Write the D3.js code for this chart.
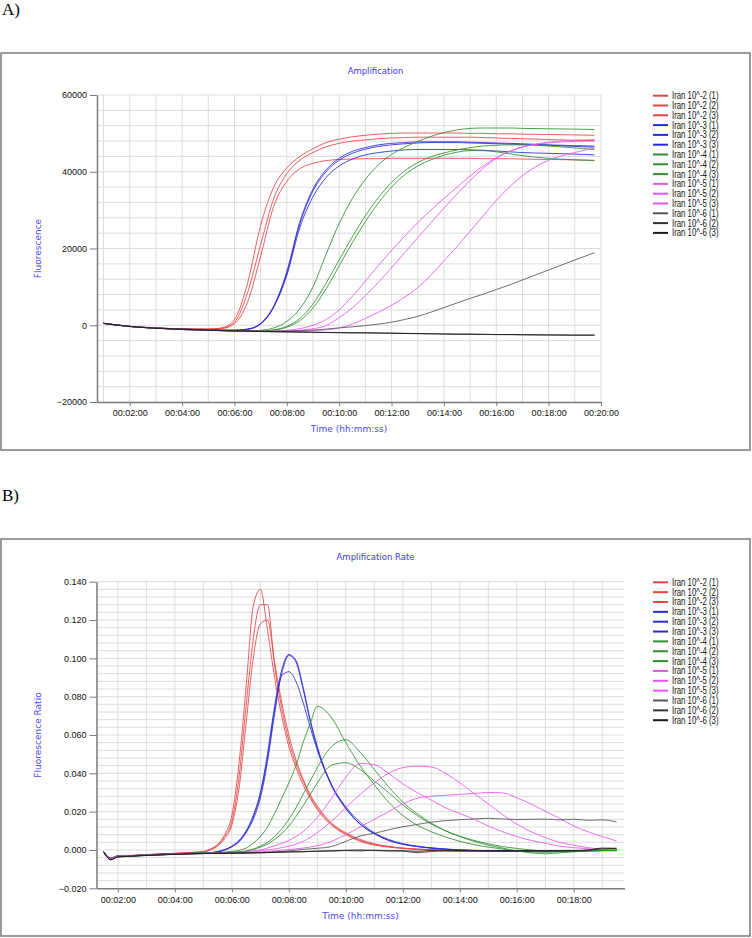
<!DOCTYPE html>
<html><head><meta charset="utf-8">
<script src="https://cdn.jsdelivr.net/npm/d3@7"></script>
<style>
body{margin:0;background:#fff;}
svg{display:block;}
</style></head><body>
<svg id="chart" width="752" height="938"></svg>
<script>
// ---------- DATA ----------
const seriesNames = ["Iran 10^-2 (1)","Iran 10^-2 (2)","Iran 10^-2 (3)","Iran 10^-3 (1)","Iran 10^-3 (2)","Iran 10^-3 (3)","Iran 10^-4 (1)","Iran 10^-4 (2)","Iran 10^-4 (3)","Iran 10^-5 (1)","Iran 10^-5 (2)","Iran 10^-5 (3)","Iran 10^-6 (1)","Iran 10^-6 (2)","Iran 10^-6 (3)"];

// Panel A: time in minutes, fluorescence
const timesA = [1,2,3,4,5,5.5,6,6.5,7,7.5,8,8.5,9,9.5,10,10.5,11,11.5,12,12.5,13,13.5,14,14.5,15,15.5,16,16.5,17,18,19,19.75];
const red1A = [500,-300,-700,-950,-1000,-700,1500,11000,26000,36000,41000,44000,46000,47600,48500,49100,49500,49800,50000,50100,50100,50100,50100,50100,50000,50000,49900,49900,49800,49700,49600,49500];
const red2A = [500,-300,-700,-950,-1000,-800,800,8500,21000,33000,39500,43000,45000,46500,47400,48000,48300,48600,48800,48900,49000,49000,49000,49000,49000,48900,48800,48700,48600,48400,48200,48100];
const red3A = [500,-300,-700,-950,-1050,-900,400,6000,18000,31000,37500,40800,42200,42900,43200,43300,43400,43400,43500,43500,43500,43500,43500,43500,43500,43400,43400,43400,43300,43200,43100,43000];
const blue1A = [500,-300,-750,-1050,-1200,-1300,-1300,-1000,500,5000,14000,27000,35500,40500,43500,45300,46300,47000,47400,47600,47800,47800,47800,47800,47700,47600,47500,47400,47300,47000,46800,46700];
const blue2A = [500,-300,-750,-1050,-1200,-1300,-1300,-1050,400,4800,13500,26500,35000,40000,43000,44800,45900,46600,47000,47300,47500,47600,47600,47600,47500,47400,47300,47200,47100,46900,46600,46400];
const blue3A = [500,-300,-750,-1050,-1200,-1300,-1300,-1050,300,4700,13000,25500,33500,38500,41500,43300,44400,45000,45400,45700,45800,45800,45800,45800,45700,45600,45400,45200,45000,44800,44600,44400];
const green1A = [500,-300,-750,-1100,-1300,-1400,-1500,-1500,-1300,-700,1000,4300,10000,18500,26500,33000,38000,41800,44500,46400,47900,49200,50200,50900,51300,51400,51400,51400,51300,51200,51100,51000];
const green2A = [500,-300,-750,-1100,-1300,-1400,-1500,-1550,-1500,-1200,-300,1800,5500,11000,17000,23000,28500,33300,37200,40200,42400,43900,44900,45700,46300,46700,46900,47000,47000,46700,46200,45800];
const green3A = [500,-300,-750,-1100,-1300,-1400,-1500,-1550,-1500,-1300,-500,1200,4500,9500,15500,21500,27000,31900,36000,39200,41500,43100,44300,45100,45500,45500,45200,44700,44200,43500,43100,42900];
const mag1A = [500,-300,-750,-1100,-1300,-1400,-1500,-1550,-1550,-1500,-1300,-900,0,1500,4000,7500,11500,15600,19500,23200,26700,30000,33000,36000,38900,41500,43700,45300,46400,47700,48200,48400];
const mag2A = [500,-300,-750,-1100,-1300,-1400,-1500,-1550,-1600,-1600,-1500,-1300,-900,-100,2000,4500,7700,11200,15000,18900,22800,26700,30500,34200,37700,40900,43500,45300,46500,47500,47900,48000];
const mag3A = [500,-300,-750,-1100,-1300,-1400,-1500,-1550,-1600,-1650,-1650,-1600,-1400,-1200,-700,300,1800,3400,5200,7300,9800,13000,16800,20500,24500,28500,32500,36000,39000,43000,45000,46200];
const black1A = [500,-300,-700,-1000,-1200,-1300,-1400,-1500,-1550,-1550,-1500,-1400,-1250,-1000,-700,-400,-100,300,800,1500,2300,3400,4600,5800,7000,8100,9300,10500,11800,14400,17000,18900];
const black2A = [500,-300,-750,-1050,-1250,-1350,-1450,-1500,-1600,-1650,-1700,-1750,-1800,-1850,-1900,-1950,-1950,-2000,-2050,-2100,-2150,-2200,-2250,-2300,-2300,-2350,-2400,-2400,-2450,-2500,-2550,-2550];
const black3A = [450,-350,-800,-1100,-1300,-1400,-1500,-1550,-1650,-1700,-1750,-1800,-1850,-1900,-1950,-2000,-2000,-2050,-2100,-2150,-2200,-2250,-2300,-2350,-2350,-2400,-2450,-2450,-2500,-2550,-2600,-2600];
const yTicksA = [60000,40000,20000,0,-20000];
const xTicksA = [2,4,6,8,10,12,14,16,18,20];

// Panel B: time in minutes, fluorescence ratio
const timesB = [1.5,1.75,2,2.5,3,3.5,4,4.5,5,5.25,5.5,5.75,6,6.25,6.5,6.75,7,7.25,7.5,7.75,8,8.25,8.5,8.75,9,9.5,10,10.5,11,11.5,12,12.5,13,13.5,14,14.5,15,15.5,16,16.5,17,17.5,18,18.5,19,19.5];
const red1B = [-0.001,-0.004,-0.003,-0.0028,-0.0024,-0.002,-0.0017,-0.0013,-0.0008,0.0005,0.003,0.008,0.018,0.045,0.085,0.127,0.136,0.115,0.09,0.07,0.054,0.043,0.034,0.027,0.021,0.013,0.008,0.0045,0.0025,0.0015,0.0008,0.0003,0.0,-0.0003,-0.0005,-0.0005,-0.0006,-0.0005,-0.0006,-0.0005,-0.0005,-0.0006,-0.0005,-0.0004,-0.0003,-0.0003];
const red2B = [-0.001,-0.0042,-0.0031,-0.0029,-0.0025,-0.0021,-0.0018,-0.0014,-0.001,0.0003,0.0025,0.007,0.015,0.038,0.075,0.11,0.128,0.128,0.096,0.074,0.057,0.045,0.036,0.028,0.022,0.0135,0.0085,0.005,0.003,0.0017,0.0009,0.0004,0.0001,-0.0002,-0.0004,-0.0005,-0.0005,-0.0006,-0.0005,-0.0005,-0.0006,-0.0005,-0.0005,-0.0004,-0.0003,-0.0003];
const red3B = [-0.001,-0.0045,-0.0032,-0.003,-0.0026,-0.0022,-0.0019,-0.0015,-0.0011,0.0,0.002,0.006,0.013,0.032,0.066,0.1,0.118,0.12,0.098,0.077,0.06,0.047,0.037,0.029,0.023,0.014,0.009,0.0055,0.0032,0.0019,0.001,0.0005,0.0002,-0.0001,-0.0003,-0.0004,-0.0005,-0.0005,-0.0005,-0.0004,-0.0005,-0.0005,-0.0004,-0.0004,-0.0003,-0.0002];
const blue1B = [-0.001,-0.0042,-0.0031,-0.0029,-0.0025,-0.0022,-0.002,-0.0018,-0.0016,-0.0014,-0.0008,0.0002,0.002,0.005,0.01,0.018,0.03,0.05,0.075,0.094,0.102,0.099,0.085,0.068,0.054,0.034,0.022,0.0135,0.0085,0.005,0.003,0.0018,0.001,0.0004,0.0,-0.0003,-0.0004,-0.0005,-0.0005,-0.0006,-0.0005,-0.0005,-0.0005,-0.0004,-0.0003,-0.0003];
const blue2B = [-0.0011,-0.0044,-0.0032,-0.003,-0.0026,-0.0023,-0.002,-0.0018,-0.0016,-0.0015,-0.0009,0.0,0.0018,0.0045,0.0095,0.017,0.029,0.048,0.073,0.092,0.1015,0.098,0.084,0.067,0.053,0.0335,0.0215,0.0135,0.0085,0.005,0.003,0.0018,0.001,0.0004,0.0,-0.0003,-0.0004,-0.0005,-0.0005,-0.0005,-0.0005,-0.0005,-0.0004,-0.0004,-0.0003,-0.0003];
const blue3B = [-0.0012,-0.0046,-0.0033,-0.003,-0.0027,-0.0023,-0.0021,-0.0019,-0.0017,-0.0015,-0.001,0.0,0.0017,0.0042,0.009,0.016,0.027,0.046,0.071,0.091,0.093,0.088,0.077,0.064,0.052,0.034,0.0225,0.0145,0.009,0.0055,0.0033,0.002,0.0011,0.0005,0.0001,-0.0002,-0.0004,-0.0005,-0.0005,-0.0005,-0.0005,-0.0004,-0.0004,-0.0003,-0.0003,-0.0002];
const green1B = [-0.0012,-0.0045,-0.0033,-0.003,-0.0026,-0.0023,-0.002,-0.0018,-0.0016,-0.0015,-0.0013,-0.0011,-0.0008,-0.0002,0.001,0.0035,0.007,0.012,0.019,0.027,0.035,0.044,0.056,0.066,0.075,0.069,0.056,0.044,0.034,0.025,0.018,0.013,0.0095,0.0068,0.0045,0.0028,0.0015,0.0005,-0.0005,-0.001,-0.0012,-0.001,-0.0006,-0.0003,0.0,0.0];
const green2B = [-0.0012,-0.0043,-0.0032,-0.003,-0.0026,-0.0023,-0.002,-0.0018,-0.0016,-0.0016,-0.0015,-0.0014,-0.0012,-0.001,-0.0005,0.0005,0.002,0.004,0.007,0.011,0.016,0.022,0.029,0.036,0.043,0.054,0.0575,0.051,0.042,0.033,0.025,0.019,0.014,0.01,0.007,0.0045,0.0025,0.001,-0.0005,-0.0015,-0.002,-0.0015,-0.001,-0.0005,-0.0003,-0.0003];
const green3B = [-0.0011,-0.0044,-0.0033,-0.003,-0.0027,-0.0024,-0.0021,-0.0019,-0.0017,-0.0016,-0.0015,-0.0014,-0.0013,-0.0011,-0.0007,0.0002,0.0015,0.003,0.0055,0.0085,0.0125,0.0175,0.023,0.029,0.035,0.0443,0.0455,0.042,0.036,0.03,0.0235,0.018,0.0135,0.01,0.0072,0.005,0.0032,0.0018,0.0008,0.0,-0.0005,-0.0006,-0.0004,-0.0002,0.0,0.0];
const mag1B = [-0.0012,-0.0044,-0.0033,-0.003,-0.0027,-0.0024,-0.0021,-0.0019,-0.0017,-0.0016,-0.0016,-0.0015,-0.0015,-0.0013,-0.001,-0.0005,0.0,0.001,0.0022,0.0035,0.005,0.007,0.0095,0.013,0.017,0.027,0.038,0.0452,0.0445,0.04,0.0345,0.03,0.026,0.022,0.019,0.016,0.0125,0.0095,0.007,0.005,0.0035,0.002,0.0012,0.0006,0.0003,0.0003];
const mag2B = [-0.0013,-0.0045,-0.0034,-0.0031,-0.0028,-0.0025,-0.0022,-0.002,-0.0018,-0.0017,-0.0017,-0.0016,-0.0016,-0.0015,-0.0013,-0.001,-0.0005,0.0,0.0005,0.0012,0.002,0.003,0.0045,0.0065,0.009,0.015,0.022,0.029,0.035,0.04,0.043,0.0437,0.0433,0.04,0.035,0.0295,0.024,0.0185,0.0135,0.0095,0.0065,0.004,0.0025,0.0012,0.0005,0.0003];
const mag3B = [-0.0013,-0.0046,-0.0035,-0.0031,-0.0028,-0.0025,-0.0022,-0.002,-0.0019,-0.0018,-0.0018,-0.0017,-0.0017,-0.0016,-0.0015,-0.0013,-0.0011,-0.0008,-0.0005,-0.0002,0.0002,0.0006,0.001,0.0015,0.0022,0.0045,0.008,0.012,0.016,0.02,0.024,0.027,0.028,0.0285,0.029,0.0295,0.03,0.0298,0.0272,0.024,0.0202,0.0165,0.0125,0.0095,0.007,0.0047];
const black1B = [-0.001,-0.0048,-0.0035,-0.0031,-0.0028,-0.0025,-0.0022,-0.002,-0.0018,-0.0017,-0.0017,-0.0016,-0.0016,-0.0015,-0.0015,-0.0014,-0.0013,-0.0012,-0.001,-0.0008,-0.0005,-0.0001,0.0003,0.0006,0.0009,0.0018,0.0045,0.0073,0.0087,0.0105,0.0121,0.0133,0.0145,0.0153,0.0158,0.0162,0.0165,0.0162,0.0159,0.016,0.0161,0.0157,0.016,0.0155,0.0157,0.0146];
const black2B = [-0.0008,-0.005,-0.0036,-0.0032,-0.0028,-0.0025,-0.0022,-0.002,-0.0018,-0.0018,-0.0017,-0.0017,-0.0016,-0.0016,-0.0015,-0.0016,-0.0014,-0.0014,-0.0012,-0.0012,-0.001,-0.001,-0.0009,-0.0008,-0.0007,-0.0006,-0.0003,-0.0005,-0.0001,-0.0004,-0.0006,-0.0014,-0.0008,-0.0004,-0.0005,-0.0003,-0.0005,-0.0004,-0.0006,-0.0005,-0.0003,-0.0005,-0.0004,-0.0002,0.0006,0.0008];
const black3B = [-0.0009,-0.0052,-0.0037,-0.0033,-0.0029,-0.0026,-0.0023,-0.0021,-0.0019,-0.0018,-0.0018,-0.0017,-0.0017,-0.0016,-0.0016,-0.0015,-0.0015,-0.0013,-0.0012,-0.0011,-0.001,-0.0009,-0.0009,-0.0007,-0.0006,-0.0004,-0.0002,0.0,-0.0003,-0.0005,-0.0004,-0.0007,-0.0003,-0.0005,-0.0004,-0.0006,-0.0004,-0.0005,-0.0004,-0.0003,-0.0005,-0.0003,-0.0003,0.0,0.001,0.0009];
const yTicksB = [0.14,0.12,0.10,0.08,0.06,0.04,0.02,0.0,-0.02];
const xTicksB = [2,4,6,8,10,12,14,16,18];

const lineColors = ["#e44444","#e44444","#e44444","#2a2ad6","#2a2ad6","#2a2ad6","#2f8f2f","#2f8f2f","#2f8f2f","#ec55ec","#ec55ec","#ec55ec","#555555","#333333","#1a1a1a"];

// ---------- DRAW ----------
const svg = d3.select("#chart");
const fmtTime = m => "00:" + String(m).padStart(2, "0") + ":00";

function drawPanel(p) {
  const g = svg.append("g");
  g.append("rect").attr("x", p.box[0]).attr("y", p.box[1]).attr("width", p.box[2]).attr("height", p.box[3])
    .attr("fill", "#fff").attr("stroke", "#7a7a7a").attr("stroke-width", 1.5);
  g.append("text").attr("x", p.labelPos[0]).attr("y", p.labelPos[1]).text(p.label)
    .attr("font-family", "'Liberation Serif','Times New Roman',serif").attr("font-size", 17).attr("fill", "#000");
  g.append("text").attr("x", 375.5).attr("y", p.titleY).attr("text-anchor", "middle").text(p.title)
    .attr("font-family", "'DejaVu Sans',Verdana,sans-serif").attr("font-size", 8.5).attr("fill", "#3a3ae6");

  const x = d3.scaleLinear().domain(p.xDomain).range([p.left, p.right]);
  const y = d3.scaleLinear().domain(p.yDomain).range([p.bottom, p.top]);

  const grid = g.append("g").attr("stroke", "#dcdcdc").attr("stroke-width", 1);
  const xg = d3.range(Math.ceil(p.xDomain[0]), Math.floor(p.xDomain[1]) + 1);
  grid.selectAll(".vx").data(xg).join("line")
    .attr("x1", d => x(d)).attr("x2", d => x(d)).attr("y1", p.top).attr("y2", p.bottom);
  const ng = Math.round((p.yDomain[1] - p.yDomain[0]) / p.yGridStep);
  const yg = d3.range(1, ng + 1).map(i => p.yDomain[0] + i * p.yGridStep);
  grid.selectAll(".hy").data(yg).join("line")
    .attr("x1", p.left).attr("x2", p.right).attr("y1", d => y(d)).attr("y2", d => y(d));

  const clipId = "clip" + p.label.replace(")", "");
  g.append("clipPath").attr("id", clipId).append("rect")
    .attr("x", p.left).attr("y", p.top - 2).attr("width", p.right - p.left).attr("height", p.bottom - p.top + 2);
  const line = d3.line().x(d => x(d[0])).y(d => y(d[1])).curve(d3.curveMonotoneX);
  const lg = g.append("g").attr("clip-path", `url(#${clipId})`);
  p.series.forEach((vals, i) => {
    const pts = p.times.map((t, j) => [t, vals[j]]);
    lg.append("path").attr("d", line(pts)).attr("fill", "none")
      .attr("stroke", lineColors[i]).attr("stroke-width", 1).attr("stroke-opacity", 0.85);
  });

  const yAxis = g.append("g").attr("transform", `translate(${p.left},0)`)
    .call(d3.axisLeft(y).tickValues(p.yTicks).tickFormat(p.yFmt).tickSize(7).tickSizeOuter(0).tickPadding(3));
  const xAxis = g.append("g").attr("transform", `translate(0,${p.bottom})`)
    .call(d3.axisBottom(x).tickValues(p.xTicks).tickFormat(fmtTime).tickSize(4).tickSizeOuter(0).tickPadding(4));
  [yAxis, xAxis].forEach(a => {
    a.select(".domain").attr("stroke", "#7a7a7a").attr("stroke-width", 1.5);
    a.selectAll(".tick line").attr("stroke", "#7a7a7a").attr("stroke-width", 1);
    a.selectAll(".tick text").attr("font-family", "'Liberation Sans',Arial,sans-serif").attr("font-size", 9).attr("fill", "#111");
  });

  g.append("text").attr("x", (p.left + p.right) / 2).attr("y", p.xTitleY).attr("text-anchor", "middle")
    .text("Time (hh:mm:ss)").attr("font-family", "'DejaVu Sans',Verdana,sans-serif").attr("font-size", 9).attr("fill", "#4a4ae8");
  g.append("text").attr("transform", `translate(40.5,${(p.top + p.bottom) / 2}) rotate(-90)`).attr("text-anchor", "middle")
    .text(p.yTitle).attr("font-family", "'DejaVu Sans',Verdana,sans-serif").attr("font-size", 9).attr("fill", "#4a4ae8");

  const leg = g.append("g");
  seriesNames.forEach((name, i) => {
    const yy = p.legendY + i * p.legendStep;
    leg.append("line").attr("x1", 653).attr("x2", 668).attr("y1", yy).attr("y2", yy)
      .attr("stroke", lineColors[i]).attr("stroke-width", 2);
    leg.append("text").attr("transform", `translate(672,${yy + 3.4}) scale(0.78,1)`).text(name)
      .attr("font-family", "'Liberation Sans',Arial,sans-serif").attr("font-size", 10).attr("fill", "#111");
  });
}

drawPanel({
  box: [1, 53, 749, 397], label: "A)", labelPos: [2, 15], title: "Amplification", titleY: 74,
  xDomain: [0.75, 20], yDomain: [-20000, 60000], left: 97, right: 601, top: 95, bottom: 402,
  yGridStep: 4000, yTicks: yTicksA, xTicks: xTicksA, yFmt: d3.format("d"),
  xTitleY: 431.5, yTitle: "Fluorescence", legendY: 95.7, legendStep: 9.8,
  times: timesA,
  series: [red1A, red2A, red3A, blue1A, blue2A, blue3A, green1A, green2A, green3A, mag1A, mag2A, mag3A, black1A, black2A, black3A]
});

drawPanel({
  box: [1, 539, 749, 397], label: "B)", labelPos: [2, 501], title: "Amplification Rate", titleY: 560,
  xDomain: [1.25, 19.78], yDomain: [-0.02, 0.14], left: 96.5, right: 624.5, top: 581.7, bottom: 888.3,
  yGridStep: 0.004, yTicks: yTicksB, xTicks: xTicksB, yFmt: d3.format(".3f"),
  xTitleY: 918.5, yTitle: "Fluorescence Ratio", legendY: 582.3, legendStep: 9.85,
  times: timesB,
  series: [red1B, red2B, red3B, blue1B, blue2B, blue3B, green1B, green2B, green3B, mag1B, mag2B, mag3B, black1B, black2B, black3B]
});
</script></body></html>
